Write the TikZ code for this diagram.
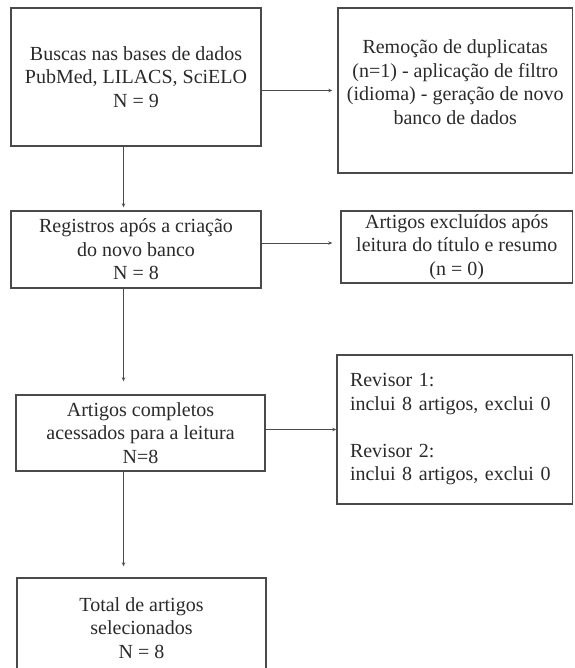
\documentclass[tikz,border=0pt]{standalone}
\usepackage{fontspec}
\setmainfont{Liberation Serif}
\usepackage{tikz}
\usetikzlibrary{arrows.meta,calc}
\definecolor{tinta}{HTML}{2A2A2A}
\definecolor{borda}{HTML}{4A4A4A}
\tikzset{
  caixa/.style={
    draw=borda,
    line width=1.4pt,
    text=tinta,
    align=center,
    inner sep=0pt
  },
  seta/.style={
    draw=borda,
    line width=0.8pt,
    -{Stealth[length=4pt,width=3.5pt]}
  }
}

\begin{document}
\begin{tikzpicture}[x=1pt,y=-1pt,font=\fontsize{20}{23.5}\selectfont]
        \useasboundingbox (0,0) rectangle (574,668);
        \coordinate (eixo) at (123.5,0);
        \node[caixa, minimum width=250pt, minimum height=138pt] (busca) at (136,77)
          {Buscas nas bases de dados\\PubMed, LILACS, SciELO\\N = 9};
        \node[caixa, minimum width=234.5pt, minimum height=165pt, text depth=17pt] (remocao) at (455.25,90.5)
          {Remoção de duplicatas\\(n=1) - aplicação de filtro\\(idioma) - geração de novo\\banco de dados};
        \node[caixa, minimum width=250pt, minimum height=77pt] (registros) at (136,249.5)
          {Registros após a criação\\do novo banco\\N = 8};
        \node[caixa, minimum width=231.5pt, minimum height=72pt] (excluidos) at (456.75,247)
          {Artigos excluídos após\\leitura do título e resumo\\(n = 0)};
        \node[caixa, minimum width=249pt, minimum height=76pt] (completos) at (140.5,433)
          {Artigos completos\\acessados para a leitura\\N=8};
        \node[caixa, align=left, inner xsep=13pt, text width=209.5pt, minimum height=149pt] (revisores) at (454.75,429.5)
          {Revisor 1:\\inclui 8 artigos, exclui 0\\[23.5pt]Revisor 2:\\inclui 8 artigos, exclui 0};
        \node[caixa, minimum width=249pt, minimum height=100pt] (total) at (141.5,628)
          {Total de artigos\\selecionados\\N = 8};
        \draw[seta, shorten >=3pt] (eixo |- busca.south) -- (eixo |- registros.north);
        \draw[seta, shorten >=13pt] (eixo |- registros.south) -- (eixo |- completos.north);
        \draw[seta, shorten >=11pt] (eixo |- completos.south) -- (eixo |- total.north);
        \draw[seta, shorten >=5pt] (busca.east |- remocao.west) -- (remocao.west);
        \draw[seta, shorten >=8pt] ($(registros.east |- excluidos.west)+(0,-4)$) -- ($(excluidos.west)+(0,-4)$);
        \draw[seta] (completos.east |- revisores.west) -- (revisores.west);
      \end{tikzpicture}
\end{document}
